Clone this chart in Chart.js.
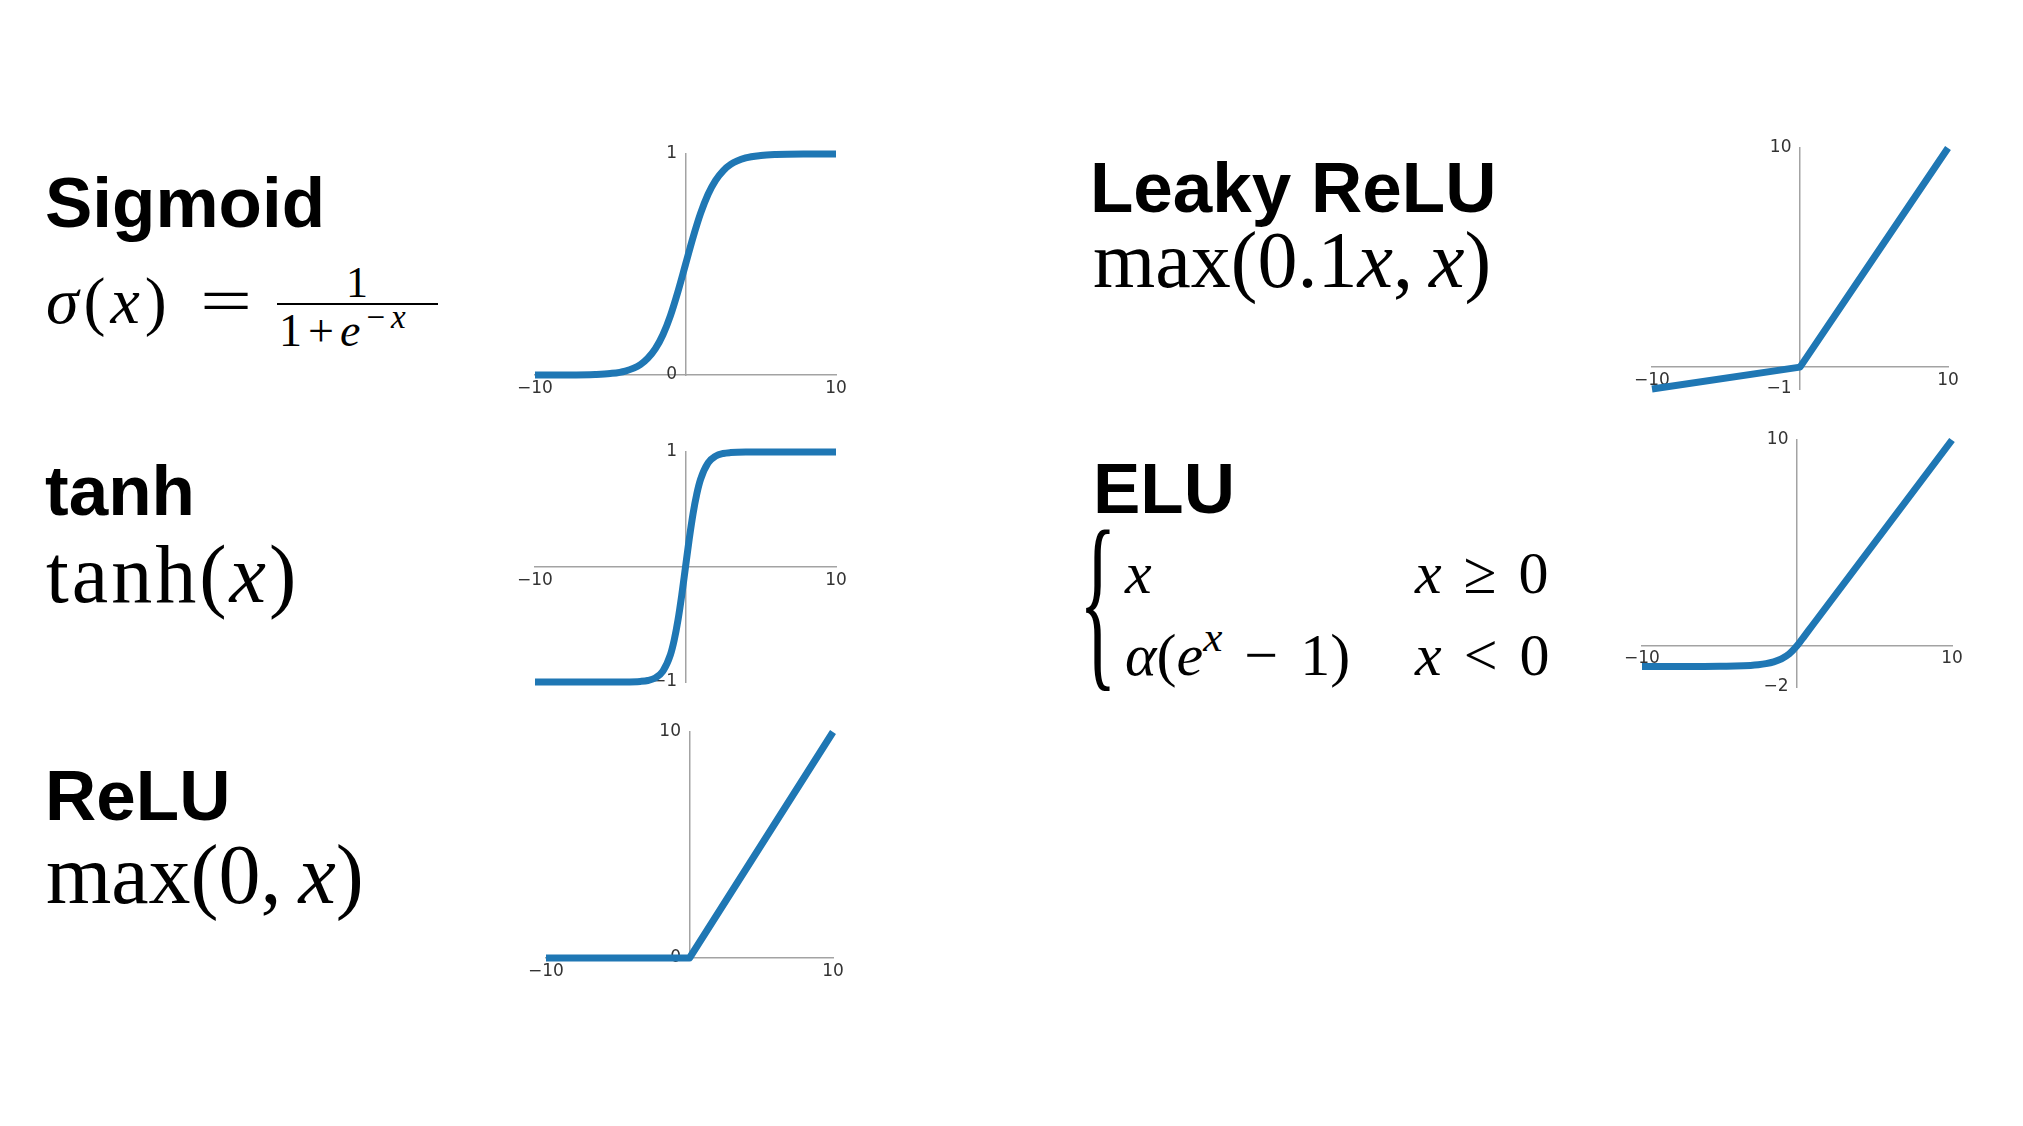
<!DOCTYPE html>
<html lang="en">
  <head>
    <meta charset="UTF-8" />
    <title>Activation Functions</title>
    <script src="https://cdn.jsdelivr.net/npm/chart.js"></script>
    <style>
      body {
        margin: 0;
        background: #fff;
      }

      #page {
        position: relative;
        width: 2023px;
        height: 1126px;
        overflow: hidden;
      }

      .title,
      .math {
        position: absolute;
        line-height: 1;
        white-space: nowrap;
        color: #000;
      }

      .title {
        font-family: "Liberation Sans", Arial, sans-serif;
        font-weight: bold;
        font-size: 71px;
      }

      .math {
        font-family: "Liberation Serif", "Times New Roman", serif;
      }

      .math sup {
        font-size: 0.72em;
        vertical-align: 0.55em;
        line-height: 0;
      }

      .bar {
        position: absolute;
        height: 2px;
        background: #000;
      }

      .plot {
        position: absolute;
      }
    </style>
  </head>
  <body>
    <div id="page">
      <!-- Sigmoid -->
      <div class="title" style="left: 45px; top: 167px">Sigmoid</div>
      <div class="math" style="left: 46px; top: 268px; font-size: 66px; letter-spacing: 5px"><i>σ</i>(<i>x</i>)</div>
      <div class="math" style="left: 200px; top: 268px; font-size: 66px; transform: scaleX(1.4); transform-origin: left top">=</div>
      <div class="math" style="left: 346px; top: 261px; font-size: 44px">1</div>
      <div class="bar" style="left: 277px; top: 303px; width: 161px"></div>
      <div class="math" style="left: 279px; top: 308px; font-size: 46px; letter-spacing: 6px">1+<i>e</i><sup>−<i>x</i></sup></div>

      <!-- tanh -->
      <div class="title" style="left: 45px; top: 455px">tanh</div>
      <div class="math" style="left: 46px; top: 534px; font-size: 82px; letter-spacing: 3px">tanh(<i>x</i>)</div>

      <!-- ReLU -->
      <div class="title" style="left: 45px; top: 760px">ReLU</div>
      <div class="math" style="left: 46px; top: 833px; font-size: 84px">max(0,&thinsp;<i>x</i>)</div>

      <!-- Leaky ReLU -->
      <div class="title" style="left: 1090px; top: 152px">Leaky ReLU</div>
      <div class="math" style="left: 1093px; top: 220px; font-size: 80px">max(0.1<i>x</i>,&thinsp;<i>x</i>)</div>

      <!-- ELU -->
      <div class="title" style="left: 1093px; top: 453px">ELU</div>
      <div class="math" style="left: 1079px; top: 501px; font-size: 196px; transform: scaleX(0.4); transform-origin: left top">{</div>
      <div class="math" style="left: 1125px; top: 543px; font-size: 60px"><i>x</i></div>
      <div class="math" style="left: 1415px; top: 543px; font-size: 60px; word-spacing: 7px"><i>x</i> ≥ 0</div>
      <div class="math" style="left: 1125px; top: 625px; font-size: 60px; word-spacing: 7px"><i>α</i>(<i>e</i><sup><i>x</i></sup> − 1)</div>
      <div class="math" style="left: 1415px; top: 625px; font-size: 60px; word-spacing: 7px"><i>x</i> &lt; 0</div>
    </div>

    <script>
      // x range ticks shared by all plots
      const xTicks = [-10, 10];

      // values
      const sigmoidX = [-10, -8, -6, -5, -4, -3, -2.5, -2, -1.5, -1, -0.5, 0, 0.5, 1, 1.5, 2, 2.5, 3, 4, 5, 6, 8, 10];
      const sigmoidY = [0.0, 0.0003, 0.0025, 0.0067, 0.018, 0.047, 0.076, 0.119, 0.182, 0.269, 0.378, 0.5, 0.622, 0.731, 0.818, 0.881, 0.924, 0.953, 0.982, 0.9933, 0.9975, 0.9997, 1.0];
      const sigmoidTicks = [0, 1];

      const tanhX = [-10, -6, -4, -3, -2.5, -2, -1.5, -1, -0.75, -0.5, -0.25, 0, 0.25, 0.5, 0.75, 1, 1.5, 2, 2.5, 3, 4, 6, 10];
      const tanhY = [-1.0, -1.0, -0.9993, -0.995, -0.987, -0.964, -0.905, -0.762, -0.635, -0.462, -0.245, 0.0, 0.245, 0.462, 0.635, 0.762, 0.905, 0.964, 0.987, 0.995, 0.9993, 1.0, 1.0];
      const tanhTicks = [-1, 1];

      const reluX = [-10, 0, 10];
      const reluY = [0, 0, 10];
      const reluTicks = [0, 10];

      const leakyX = [-10, 0, 10];
      const leakyY = [-1, 0, 10];
      const leakyTicks = [-1, 10];

      const eluX = [-10, -8, -6, -5, -4, -3, -2.5, -2, -1.5, -1, -0.5, 0, 0.5, 1, 10];
      const eluY = [-1.0, -0.9997, -0.998, -0.993, -0.982, -0.95, -0.918, -0.865, -0.777, -0.632, -0.393, 0.0, 0.5, 1.0, 10.0];
      const eluTicks = [-2, 10];

      // plot area on the page: left, top, width, height
      const plots = [
        { id: "sigmoid", box: [535, 154, 301, 221], x: sigmoidX, y: sigmoidY, ticks: sigmoidTicks, smooth: true },
        { id: "tanh", box: [535, 452, 301, 230], x: tanhX, y: tanhY, ticks: tanhTicks, smooth: true },
        { id: "relu", box: [546, 732, 287, 226], x: reluX, y: reluY, ticks: reluTicks, smooth: false },
        { id: "leaky", box: [1652, 148, 296, 241], x: leakyX, y: leakyY, ticks: leakyTicks, smooth: false },
        { id: "elu", box: [1642, 440, 310, 247], x: eluX, y: eluY, ticks: eluTicks, smooth: true },
      ];

      const PAD = 30;
      const axisColor = "#a3a3a3";

      Chart.defaults.font.family = "'DejaVu Sans', sans-serif";
      Chart.defaults.font.size = 17;
      Chart.defaults.color = "#333";

      function fmt(v) {
        return v < 0 ? "\u2212" + Math.abs(v) : String(v);
      }

      plots.forEach((p) => {
        const [left, top, w, h] = p.box;
        const canvas = document.createElement("canvas");
        canvas.id = p.id;
        canvas.className = "plot";
        canvas.width = w + 2 * PAD;
        canvas.height = h + 2 * PAD;
        canvas.style.left = left - PAD + "px";
        canvas.style.top = top - PAD + "px";
        document.getElementById("page").appendChild(canvas);

        new Chart(canvas, {
          type: "line",
          data: {
            datasets: [
              {
                data: p.x.map((v, i) => ({ x: v, y: p.y[i] })),
                borderColor: "#1f77b4",
                borderWidth: 7,
                pointRadius: 0,
                tension: p.smooth ? 0.4 : 0,
                cubicInterpolationMode: p.smooth ? "monotone" : "default",
                borderJoinStyle: "round",
                clip: false,
              },
            ],
          },
          options: {
            responsive: false,
            animation: false,
            layout: { padding: PAD },
            plugins: {
              legend: { display: false },
              tooltip: { enabled: false },
            },
            scales: {
              x: {
                type: "linear",
                min: xTicks[0],
                max: xTicks[1],
                position: { y: 0 },
                grid: { display: false, drawTicks: false },
                border: { color: axisColor, width: 1.5 },
                ticks: { padding: 3, autoSkip: false, maxRotation: 0, callback: (v) => fmt(v) },
                afterBuildTicks: (a) => {
                  a.ticks = xTicks.map((v) => ({ value: v }));
                },
                afterFit: (s) => {
                  s.height = 0;
                },
              },
              y: {
                type: "linear",
                min: p.ticks[0],
                max: p.ticks[1],
                position: { x: 0 },
                grid: { display: false, drawTicks: false },
                border: { color: axisColor, width: 1.5 },
                ticks: { autoSkip: false, callback: (v) => fmt(v) + "\u2002" },
                afterBuildTicks: (a) => {
                  a.ticks = p.ticks.map((v) => ({ value: v }));
                },
                afterFit: (s) => {
                  s.width = 0;
                },
              },
            },
          },
        });
      });
    </script>
  </body>
</html>
